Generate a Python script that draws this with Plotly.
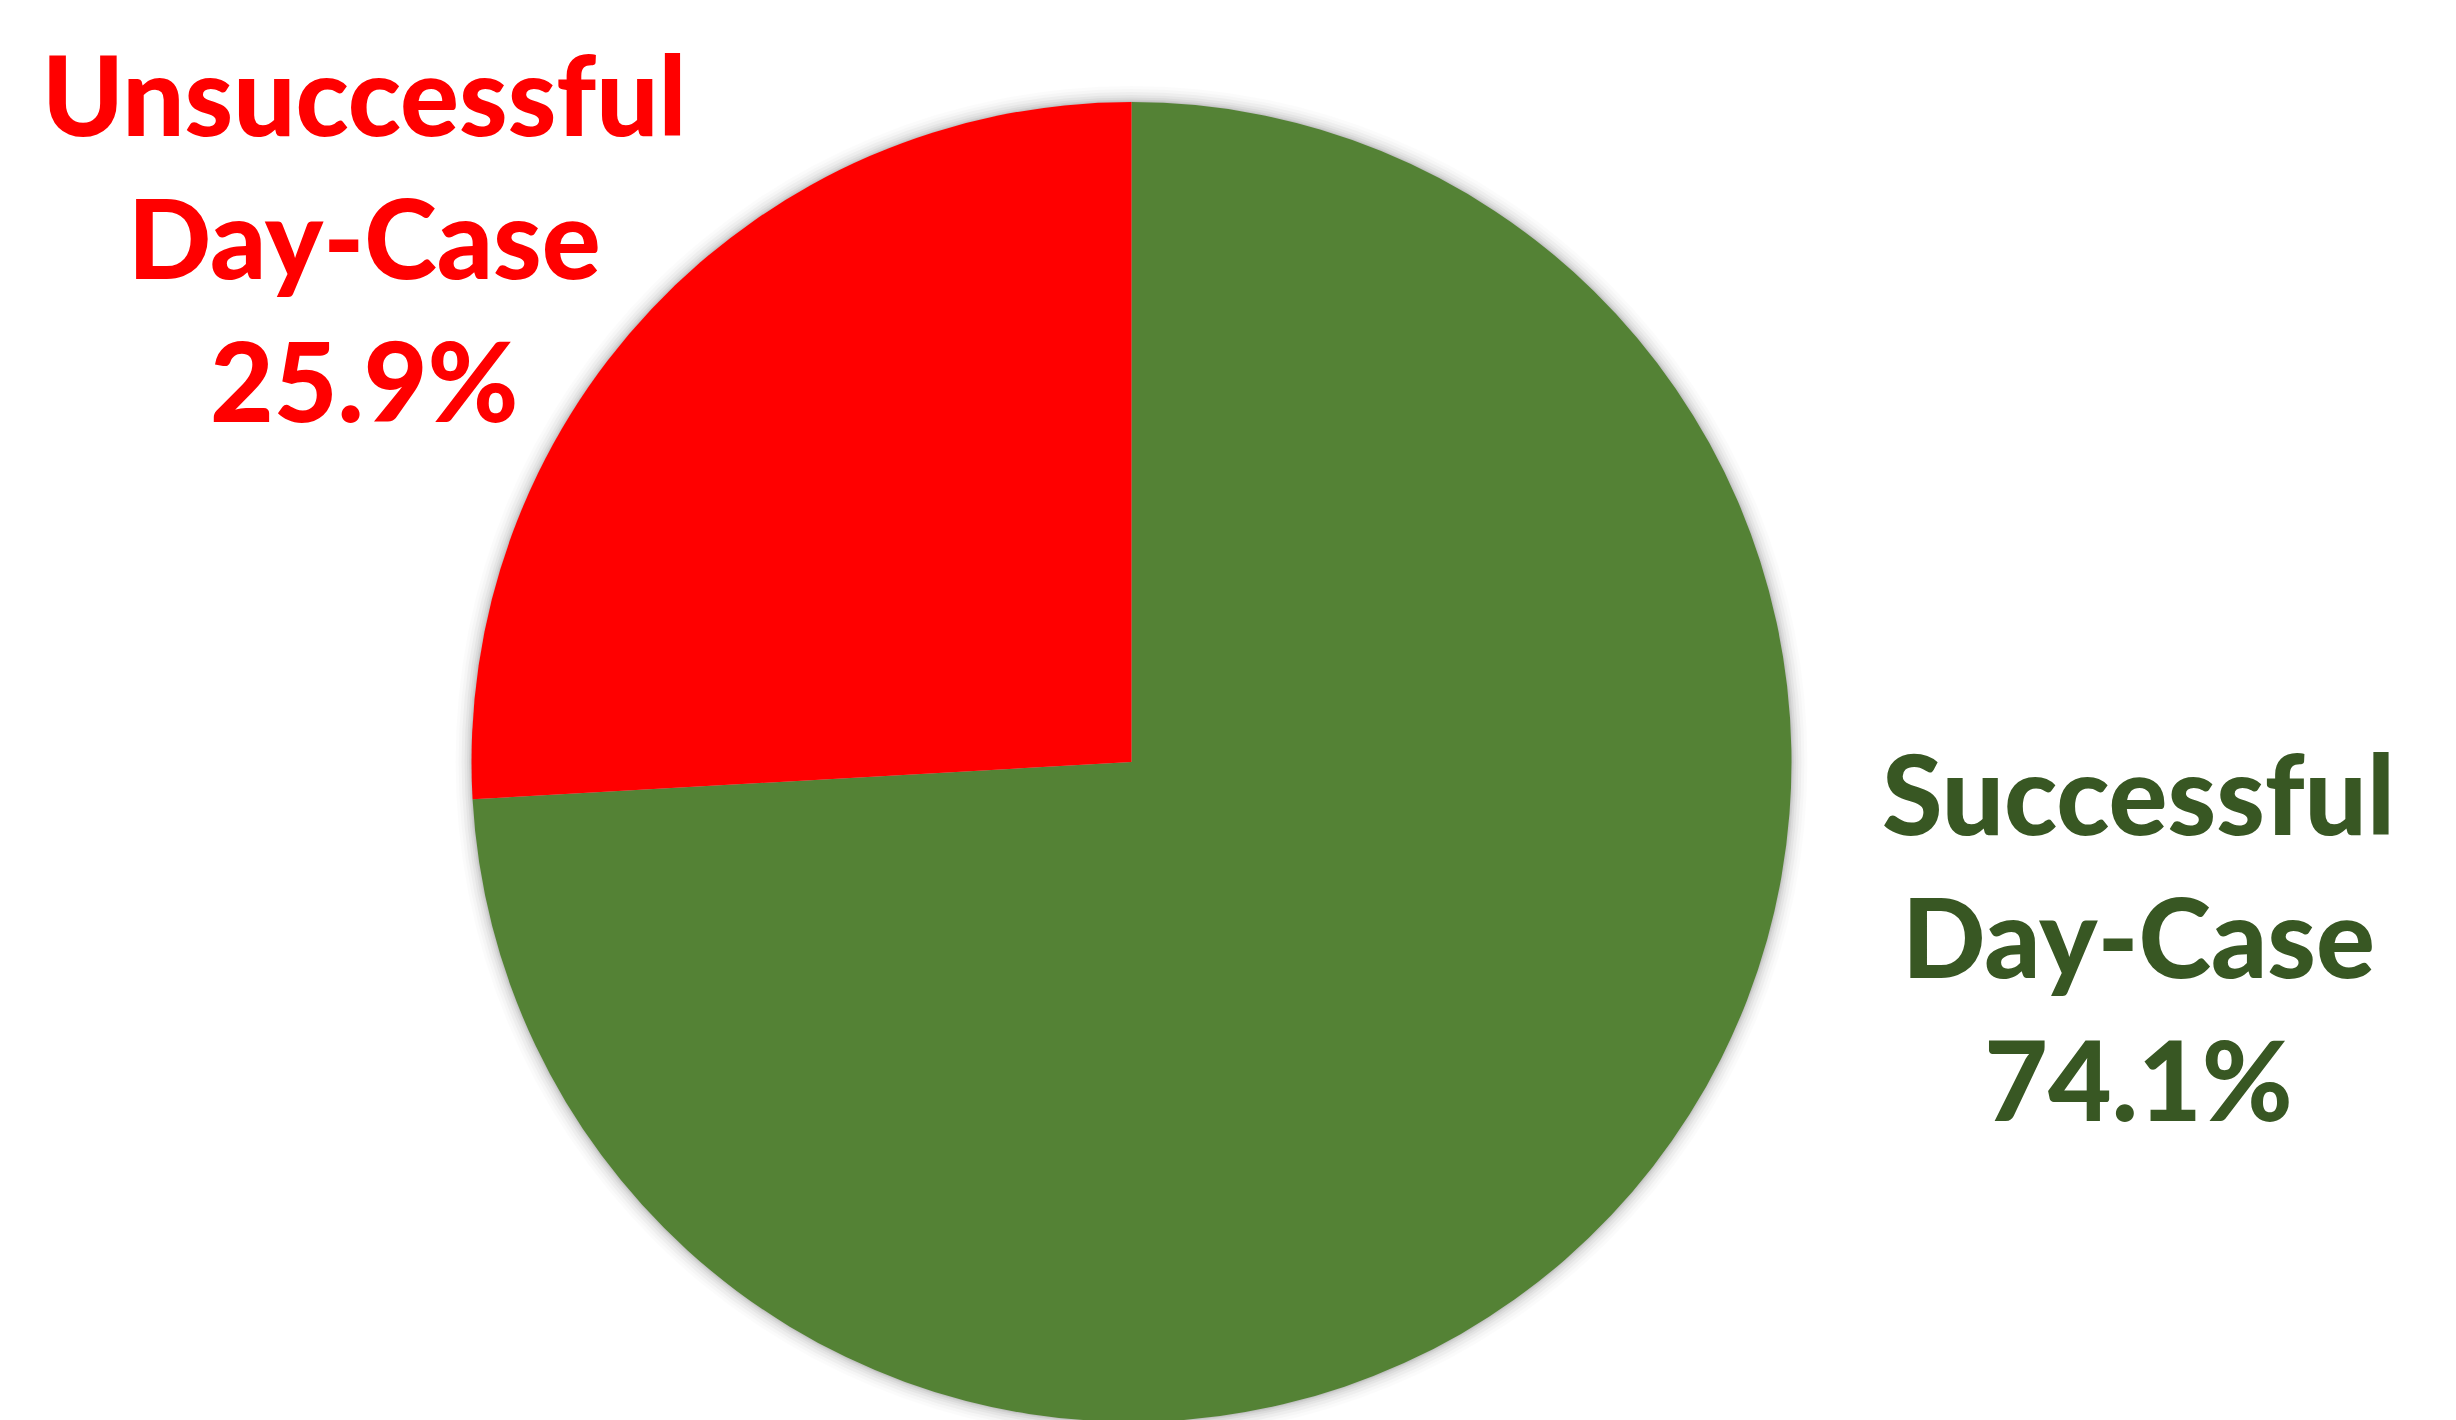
import plotly.graph_objects as go

# Data
categories = ["Successful Day-Case", "Unsuccessful Day-Case"]
values = [74.1, 25.9]
label_lines = [["Successful", "Day-Case", "74.1%"], ["Unsuccessful", "Day-Case", "25.9%"]]

slice_colors = ["#548235", "#FF0000"]
text_colors = ["#385723", "#FF0000"]

W, H = 2456, 1420
OFF = 8  # default body margin of the html page
cx, cy, r = 1131.5 - OFF, 762.0 - OFF, 660.0  # pixel geometry of the pie (from top-left)

fig = go.Figure()
fig.add_trace(go.Pie(
    labels=categories,
    values=values,
    sort=False,
    direction="clockwise",
    rotation=0,
    marker=dict(colors=slice_colors, line=dict(width=0)),
    textinfo="none",
    hoverinfo="skip",
    showlegend=False,
    domain=dict(x=[(cx - r) / W, (cx + r) / W], y=[(H - cy - r) / H, (H - cy + r) / H]),
))

# soft shadow rings behind the pie
shapes = []
for d, a in [(16, 0.015), (13, 0.02), (10, 0.03), (7, 0.035), (4.5, 0.045), (2.5, 0.05), (1, 0.06)]:
    shapes.append(dict(
        type="circle", xref="paper", yref="paper", layer="below",
        x0=(cx - r - d) / W, x1=(cx + r + d) / W,
        y0=(H - cy - r - d) / H, y1=(H - cy + r + d) / H,
        fillcolor=f"rgba(0,0,0,{a})", line=dict(width=0),
    ))

ann_pos = [(2138 - OFF, 935 - OFF), (364 - OFF, 236 - OFF)]
annotations = []
for lines, col, (ax, ay) in zip(label_lines, text_colors, ann_pos):
    annotations.append(dict(
        text="<br>".join(lines), xref="paper", yref="paper",
        x=ax / W, y=1 - ay / H, xanchor="center", yanchor="middle",
        showarrow=False, align="center",
        font=dict(family="Lato", size=110, color=col, weight=900),
    ))

fig.update_layout(
    width=W, height=H,
    margin=dict(l=0, r=0, t=0, b=0),
    paper_bgcolor="white", plot_bgcolor="white",
    shapes=shapes, annotations=annotations,
)

fig.write_html("out.html")
